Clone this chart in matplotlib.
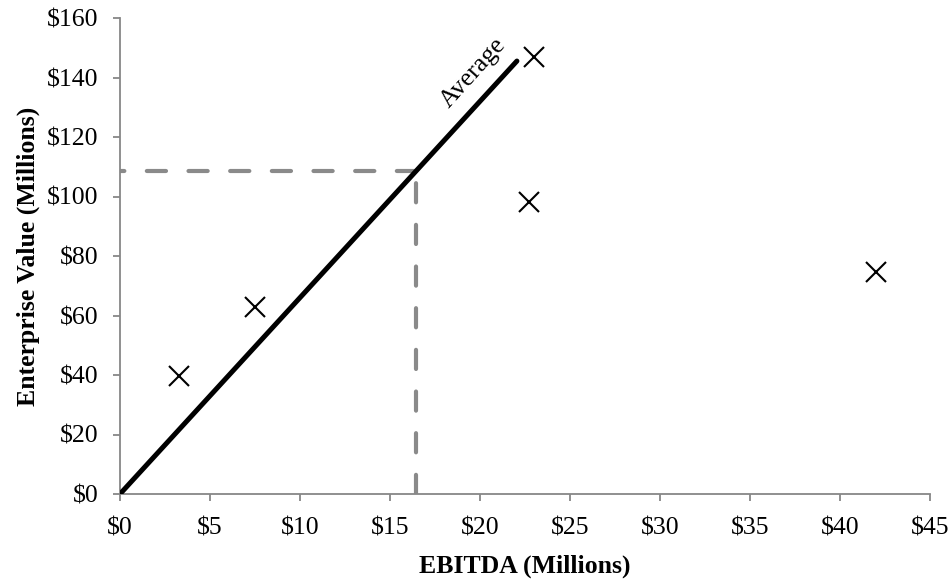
import matplotlib
matplotlib.use("Agg")
import matplotlib.pyplot as plt
from matplotlib.ticker import FuncFormatter, MultipleLocator

# Data (millions)
ebitda = [3.3, 7.5, 22.7, 23.0, 42.0]
enterprise_value = [39.5, 63.0, 98.0, 147.0, 74.5]
avg_multiple = 6.6
avg_line_x = [0.0, 22.05]
target_ebitda = 16.43
target_ev = 108.5

plt.rcParams['font.family'] = ['Liberation Serif', 'DejaVu Serif']

fig = plt.figure(figsize=(9.53, 5.80), dpi=100)
ax = fig.add_axes([120/953, 1-494/580, 810/953, 476/580])

grey = '#8a8a8a'
# dashed guide lines (horizontal drawn from the target towards the axis, vertical from the axis up)
ax.plot([target_ebitda, 0], [target_ev, target_ev], color=grey, lw=3,
        dashes=(4.6, 5.4), dash_capstyle='round', zorder=2)
ax.plot([target_ebitda, target_ebitda], [0, target_ev], color=grey, lw=3,
        dashes=(4.6, 5.4), dash_capstyle='round', zorder=2)

# average line
ax.plot(avg_line_x, [x * avg_multiple for x in avg_line_x], color='black', lw=3.6,
        solid_capstyle='round', zorder=3)
ax.text(19.65, 141.6, 'Average', rotation=47.8, rotation_mode='anchor',
        ha='center', va='center', fontsize=18.5, color='black')

# scatter
ax.plot(ebitda, enterprise_value, linestyle='none', marker='x', color='black',
        markersize=14.5, markeredgewidth=1.5, zorder=4, clip_on=False)

ax.set_xlim(0, 45)
ax.set_ylim(0, 160)
ax.xaxis.set_major_locator(MultipleLocator(5))
ax.yaxis.set_major_locator(MultipleLocator(20))
ax.xaxis.set_major_formatter(FuncFormatter(lambda v, p: f'${v:.0f}'))
ax.yaxis.set_major_formatter(FuncFormatter(lambda v, p: f'${v:.0f}'))

for s in ['top', 'right']:
    ax.spines[s].set_visible(False)
for s in ['left', 'bottom']:
    ax.spines[s].set_color('#878787')
    ax.spines[s].set_linewidth(1.3)
ax.tick_params(axis='both', direction='out', length=5, width=1.3, color='#878787',
               labelsize=18.5, labelcolor='black')
ax.tick_params(axis='y', pad=10.5)
ax.tick_params(axis='x', pad=12)

ax.set_xlabel('EBITDA (Millions)', fontsize=18.5, fontweight='bold', labelpad=11)
ax.set_ylabel('Enterprise Value (Millions)', fontsize=18.5, fontweight='bold', labelpad=5)

fig.savefig('out.png', dpi=100)
